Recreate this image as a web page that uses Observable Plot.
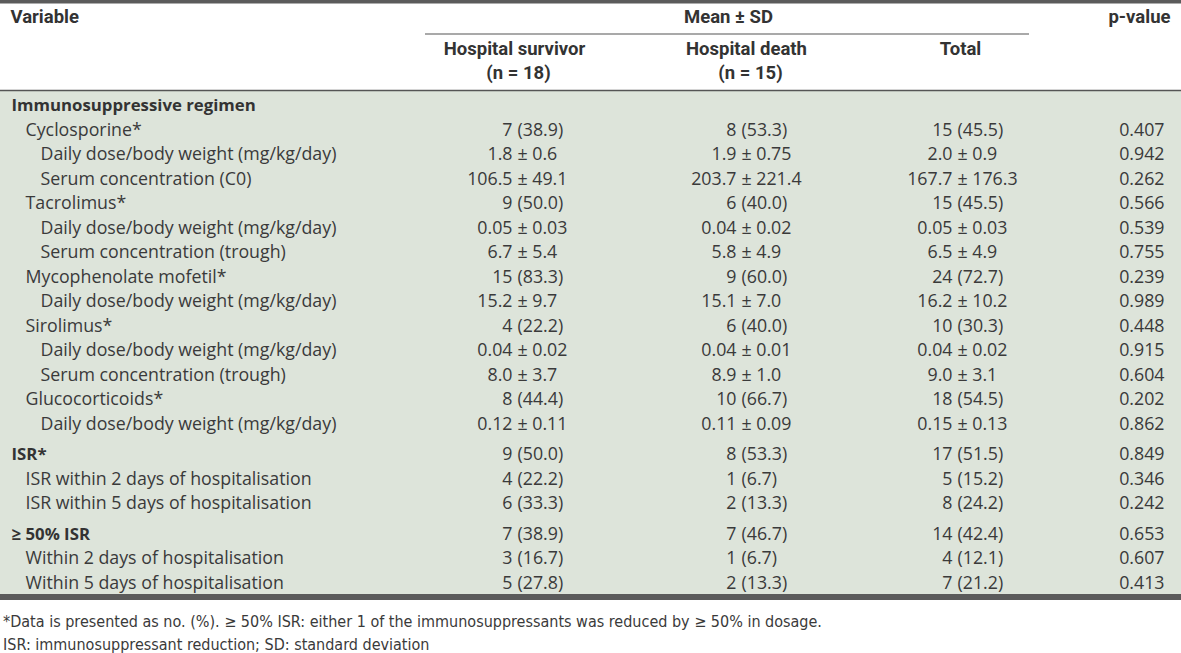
<!DOCTYPE html>
<html><head><meta charset="utf-8">
<script src="https://cdn.jsdelivr.net/npm/d3@7"></script>
<script src="https://cdn.jsdelivr.net/npm/@observablehq/plot@0.6"></script>
<style>
html,body{margin:0;padding:0;background:#fff;}
#chart svg{display:block;}
.notes{font-family:"Liberation Sans Narrow","DejaVu Sans Condensed",sans-serif;font-size:16px;color:#3a3a3a;padding-left:3px;line-height:23px;margin-top:10px;}
</style></head><body>
<div id="chart"></div>
<div class="notes">
<div>*Data is presented as no. (%). ≥ 50% ISR: either 1 of the immunosuppressants was reduced by ≥ 50% in dosage.</div>
<div>ISR: immunosuppressant reduction; SD: standard deviation</div>
</div>
<script>
const variables = ["Immunosuppressive regimen","Cyclosporine*","Daily dose/body weight (mg/kg/day)","Serum concentration (C0)","Tacrolimus*","Daily dose/body weight (mg/kg/day)","Serum concentration (trough)","Mycophenolate mofetil*","Daily dose/body weight (mg/kg/day)","Sirolimus*","Daily dose/body weight (mg/kg/day)","Serum concentration (trough)","Glucocorticoids*","Daily dose/body weight (mg/kg/day)","ISR*","ISR within 2 days of hospitalisation","ISR within 5 days of hospitalisation","≥ 50% ISR","Within 2 days of hospitalisation","Within 5 days of hospitalisation"];
const levels = [0,1,2,2,1,2,2,1,2,1,2,2,1,2,0,1,1,0,1,1];
const survivor = ["","7 (38.9)","1.8 ± 0.6","106.5 ± 49.1","9 (50.0)","0.05 ± 0.03","6.7 ± 5.4","15 (83.3)","15.2 ± 9.7","4 (22.2)","0.04 ± 0.02","8.0 ± 3.7","8 (44.4)","0.12 ± 0.11","9 (50.0)","4 (22.2)","6 (33.3)","7 (38.9)","3 (16.7)","5 (27.8)"];
const death = ["","8 (53.3)","1.9 ± 0.75","203.7 ± 221.4","6 (40.0)","0.04 ± 0.02","5.8 ± 4.9","9 (60.0)","15.1 ± 7.0","6 (40.0)","0.04 ± 0.01","8.9 ± 1.0","10 (66.7)","0.11 ± 0.09","8 (53.3)","1 (6.7)","2 (13.3)","7 (46.7)","1 (6.7)","2 (13.3)"];
const total = ["","15 (45.5)","2.0 ± 0.9","167.7 ± 176.3","15 (45.5)","0.05 ± 0.03","6.5 ± 4.9","24 (72.7)","16.2 ± 10.2","10 (30.3)","0.04 ± 0.02","9.0 ± 3.1","18 (54.5)","0.15 ± 0.13","17 (51.5)","5 (15.2)","8 (24.2)","14 (42.4)","4 (12.1)","7 (21.2)"];
const pValues = ["","0.407","0.942","0.262","0.566","0.539","0.755","0.239","0.989","0.448","0.915","0.604","0.202","0.862","0.849","0.346","0.242","0.653","0.607","0.413"];
const columnHeaders = ["Hospital survivor","Hospital death","Total"];
const columnCounts = ["(n = 18)","(n = 15)",""];
const groupHeader = "Mean ± SD";

// layout
const W = 1181, H = 600;
const rowH = 24.5, firstRowPx = 105;
const bodyFont = "'Open Sans', 'Noto Sans', sans-serif";
const headFont = "Roboto, 'Liberation Sans', sans-serif";
const textColor = "#3a3a3a";
const bg = "#dde4da";
const sepX = [517, 741, 957];
const headCenter = [514, 746, 960];
const pRight = 1164;
const indentX = [11, 25, 40];
const bodySize = 17.8, headSize = 18.5;

// row positions in row units (extra gap before each top-level group after the first)
let gaps = 0;
const rows = variables.map((label, i) => {
  if (levels[i] === 0 && i > 0) gaps += 0.25;
  return {i, label, level: levels[i], pos: i + gaps};
});
const px = p => (p - firstRowPx) / rowH; // convert pixel layout to row units

const cells = [];
[survivor, death, total].forEach((col, c) => {
  col.forEach((v, i) => {
    if (!v) return;
    const k = v.indexOf(" ");
    cells.push({c, pos: rows[i].pos, left: v.slice(0, k), right: v.slice(k + 1)});
  });
});
const pCells = pValues.map((v, i) => ({v, pos: rows[i].pos})).filter(d => d.v);

const headerRows = [];
columnHeaders.forEach((h, c) => {
  headerRows.push({text: h, x: headCenter[c], pos: px(49)});
  if (columnCounts[c]) headerRows.push({text: columnCounts[c], x: headCenter[c] + 4, pos: px(73)});
});

const chart = Plot.plot({
  width: W, height: H, margin: 0,
  x: {domain: [0, W], range: [0, W], axis: null},
  y: {domain: [px(0), px(H)], range: [0, H], axis: null},
  style: {background: "#fff", color: textColor},
  marks: [
    Plot.rect([0], {x1: () => 0, x2: () => W, y1: () => px(90), y2: () => px(595), fill: bg}),
    Plot.rect([0], {x1: () => 0, x2: () => W, y1: () => px(0), y2: () => px(3.5), fill: "#5b5b5b"}),
    Plot.rect([0], {x1: () => 0, x2: () => W, y1: () => px(594), y2: () => px(600), fill: "#5b5b5b"}),
    Plot.ruleY([px(90)], {x1: () => 0, x2: () => W, stroke: "#555", strokeWidth: 1.5}),
    Plot.ruleY([px(33.5)], {x1: () => 425, x2: () => 1029, stroke: "#555", strokeWidth: 1.2}),
    // header
    Plot.text(["Variable"], {x: () => 10, y: () => px(17), text: d => d, textAnchor: "start", fontWeight: "bold", fontSize: headSize, fontFamily: headFont, fill: "#333"}),
    Plot.text([groupHeader], {x: () => 728, y: () => px(17), text: d => d, fontWeight: "bold", fontSize: headSize, fontFamily: headFont, fill: "#333"}),
    Plot.text(["p-value"], {x: () => 1170, y: () => px(17), text: d => d, textAnchor: "end", fontWeight: "bold", fontSize: headSize, fontFamily: headFont, fill: "#333"}),
    Plot.text(headerRows, {x: "x", y: "pos", text: "text", fontWeight: "bold", fontSize: headSize, fontFamily: headFont, fill: "#333"}),
    // variable labels
    Plot.text(rows.filter(d => d.level === 0), {x: d => indentX[d.level], y: "pos", text: "label", textAnchor: "start", fontWeight: 700, fontSize: 16.8, fontFamily: bodyFont, fill: "#333"}),
    Plot.text(rows.filter(d => d.level > 0), {x: d => indentX[d.level], y: "pos", text: "label", textAnchor: "start", fontSize: bodySize, fontFamily: bodyFont, fill: textColor}),
    // values aligned on separator
    Plot.text(cells, {x: d => sepX[d.c] - 5, y: "pos", text: "left", textAnchor: "end", fontSize: bodySize, fontFamily: bodyFont, fill: textColor}),
    Plot.text(cells, {x: d => sepX[d.c], y: "pos", text: "right", textAnchor: "start", fontSize: bodySize, fontFamily: bodyFont, fill: textColor}),
    Plot.text(pCells, {x: () => pRight, y: "pos", text: "v", textAnchor: "end", fontSize: bodySize, fontFamily: bodyFont, fill: textColor})
  ]
});
document.getElementById("chart").appendChild(chart);
</script>
</body></html>
